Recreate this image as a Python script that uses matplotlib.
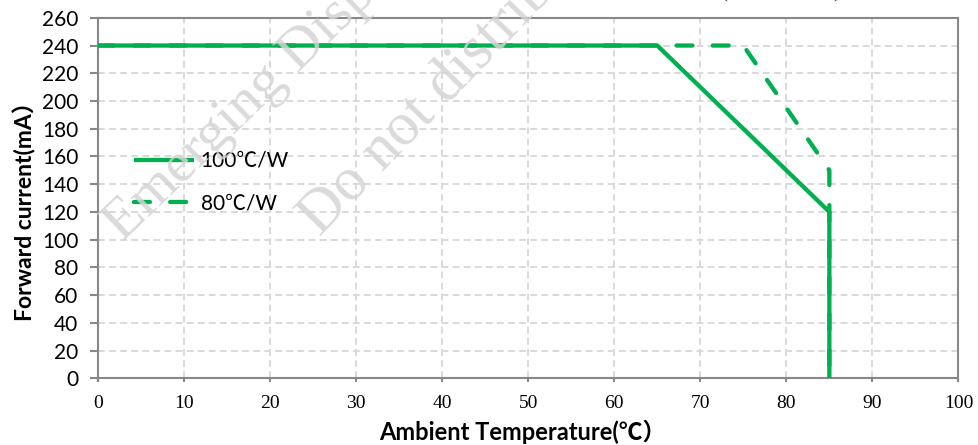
import numpy as np
import matplotlib
matplotlib.use('Agg')
import matplotlib.pyplot as plt

# Derating curves.
temp_100 = [0, 65, 85, 85]
current_100 = [240, 240, 120, 0]
temp_80 = [0, 75, 85, 85]
current_80 = [240, 240, 150, 0]
labels = ['100℃/W', '80℃/W']
xticks = list(range(0, 101, 10))
yticks = list(range(0, 261, 20))

green = '#00B050'
sans = ['Lato', 'Noto Sans CJK SC', 'DejaVu Sans']

fig = plt.figure(figsize=(9.79, 4.45), dpi=100)
ax = fig.add_axes([0.100, 0.150, 0.879, 0.810])

ax.plot(temp_100, current_100, color=green, lw=3.1, solid_capstyle='butt',
        label=labels[0], zorder=4)
ax.plot(temp_80, current_80, color=green, lw=3.1, linestyle=(0, (3.7, 4.7)),
        dash_capstyle='round', label=labels[1], zorder=3)

ax.set_xlim(0, 100)
ax.set_ylim(0, 260)
ax.set_xticks(xticks)
ax.set_yticks(yticks)
ax.grid(True, color='#d9d9d9', lw=1.4, linestyle=(0, (3.5, 2.2)))
ax.set_axisbelow(True)

for sp in ax.spines.values():
    sp.set_color('#888888')
    sp.set_linewidth(1.5)

ax.tick_params(axis='y', length=6, width=1.5, color='#888888', pad=8)
ax.tick_params(axis='x', length=3, width=1.5, color='#888888', pad=9)
for t in ax.get_yticklabels():
    t.set_family(sans)
    t.set_fontsize(15)
for t in ax.get_xticklabels():
    t.set_family('Liberation Serif')
    t.set_fontsize(14)

ax.set_ylabel('Forward current(mA）', family=sans, fontsize=16.5, fontweight='bold')
ax.yaxis.set_label_coords(-0.071, 0.478)
ax.set_xlabel('Ambient Temperature(℃）', family=sans, fontsize=17, fontweight='bold')
ax.xaxis.set_label_coords(0.494, -0.115)

leg = ax.legend(loc='upper left', bbox_to_anchor=(0.02, 0.683), frameon=False,
                handlelength=2.9, handletextpad=0.3, labelspacing=1.1,
                prop={'family': sans, 'size': 15})

# Watermark.
fig.text(0.125, 0.455, 'Emerging Display Technologies', family='Liberation Serif',
         fontsize=42, color='#d4d4d4', alpha=0.85, rotation=44,
         rotation_mode='anchor', ha='left', va='baseline', zorder=5)
fig.text(0.326, 0.468, 'Do not distribute', family='Liberation Serif',
         fontsize=44, color='#d4d4d4', alpha=0.85, rotation=46,
         rotation_mode='anchor', ha='left', va='baseline', zorder=5)

# Title cut off at the top edge: only the bracket tails remain.
fig.text(0.739, 1.005, '(', family='Liberation Serif', fontsize=15,
         ha='center', va='baseline', color='#333333')
fig.text(0.855, 1.005, ')', family='Liberation Serif', fontsize=15,
         ha='center', va='baseline', color='#333333')

plt.savefig('out.png', dpi=100)
